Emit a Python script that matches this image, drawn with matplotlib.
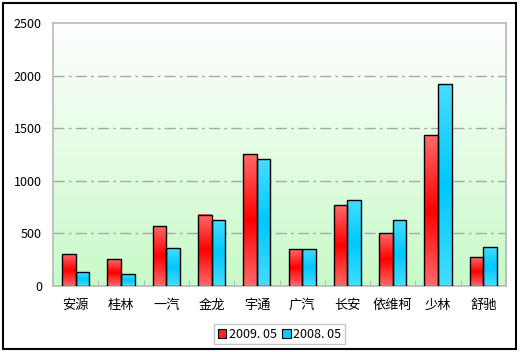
import numpy as np
import matplotlib
matplotlib.use('Agg')
import matplotlib.pyplot as plt
from matplotlib.colors import LinearSegmentedColormap
from matplotlib.patches import Rectangle

plt.rcParams['font.family'] = ['Noto Sans CJK SC', 'DejaVu Sans']

# 数据
categories = ['安源', '桂林', '一汽', '金龙', '宇通', '广汽', '长安', '依维柯', '少林', '舒驰']
sales_2009 = [300, 255, 567, 675, 1252, 349, 767, 501, 1432, 273]
sales_2008 = [130, 111, 358, 624, 1204, 349, 815, 624, 1917, 368]
series_labels = ['2009. 05', '2008. 05']

red_cmap = LinearSegmentedColormap.from_list('r', ['#FF6A6A', '#FF0000', '#FF6A6A'])
blue_cmap = LinearSegmentedColormap.from_list('b', ['#45DDFF', '#00C8FF', '#45DDFF'])

fig = plt.figure(figsize=(5.2, 3.52), dpi=100)
ax = fig.add_axes([0.1019, 0.1875, 0.8712, 0.7472])

x = np.arange(len(categories))
w = 0.3

# 背景渐变
bg = LinearSegmentedColormap.from_list('bg', ['#C8FAC8', '#FFFFFF'])
grad = np.linspace(0, 1, 256).reshape(-1, 1)
ax.imshow(grad, extent=[-0.5, len(categories) - 0.5, 0, 2500], origin='lower',
          aspect='auto', cmap=bg, zorder=0)

bars1 = ax.bar(x - w / 2, sales_2009, w, facecolor='none', edgecolor='black', lw=1.0, zorder=3)
bars2 = ax.bar(x + w / 2, sales_2008, w, facecolor='none', edgecolor='black', lw=1.0, zorder=3)

# 柱子的纵向渐变
vgrad = np.linspace(0, 1, 256).reshape(-1, 1)
for bars, cm in ((bars1, red_cmap), (bars2, blue_cmap)):
    for b in bars:
        x0, h, bw = b.get_x(), b.get_height(), b.get_width()
        ax.imshow(vgrad, extent=[x0, x0 + bw, 0, h], origin='lower',
                  aspect='auto', cmap=cm, zorder=2)

ax.set_xlim(-0.5, len(categories) - 0.5)
ax.set_ylim(0, 2500)

ax.set_yticks([0, 500, 1000, 1500, 2000, 2500])
ax.set_yticklabels(['0', '500', '1000', '1500', '2000', '2500'])
for yv in [500, 1000, 1500, 2000]:
    ax.axhline(yv, color='#A8A8A8', lw=1, ls=(0, (8, 3, 2, 3)), zorder=1)

ax.set_xticks(x)
ax.set_xticklabels(categories)
ax.set_xticks(np.arange(-0.5, len(categories)), minor=True)
ax.tick_params(axis='x', which='major', length=0, pad=9, labelsize=9.5)
ax.tick_params(axis='x', which='minor', direction='in', length=4, color='#B0B0B0')
ax.tick_params(axis='y', length=0, pad=8, labelsize=9)

for s in ax.spines.values():
    s.set_color('#B8B8B8')
    s.set_linewidth(1.2)

h1 = Rectangle((0, 0), 1, 1, facecolor='#FF2020', edgecolor='black', lw=0.8)
h2 = Rectangle((0, 0), 1, 1, facecolor='#10C8FF', edgecolor='black', lw=0.8)
leg = fig.legend([h1, h2], series_labels, loc='center', bbox_to_anchor=(0.5375, 0.051),
                 ncol=2, fontsize=9, frameon=True, fancybox=False, edgecolor='#B8B8B8',
                 handlelength=0.7, handleheight=0.7, handletextpad=0.2, columnspacing=0.4,
                 borderpad=0.3, borderaxespad=0)
leg.get_frame().set_linewidth(1.0)

fig.patches.append(Rectangle((3 / 520, 3 / 352), 513 / 520, 346 / 352, transform=fig.transFigure,
                             fill=False, edgecolor='black', lw=1.5))

fig.savefig('out.png', dpi=100)
